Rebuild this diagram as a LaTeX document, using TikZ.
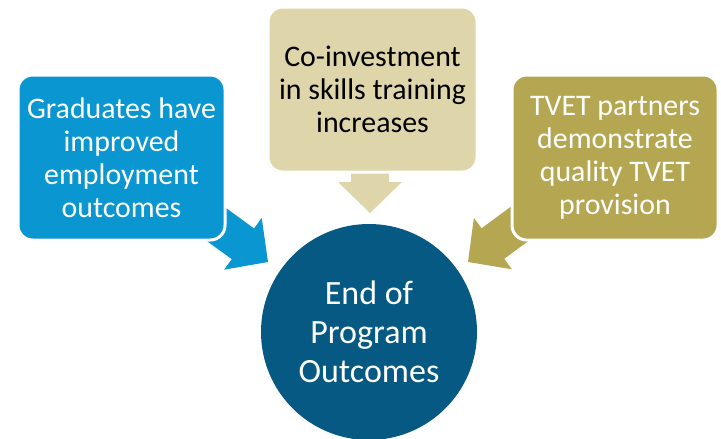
\documentclass[tikz,border=0pt]{standalone}
\usepackage{fontspec}
\setmainfont{Carlito}
\definecolor{cblue}{RGB}{10,150,208}
\definecolor{ctan}{RGB}{222,214,170}
\definecolor{colive}{RGB}{181,167,82}
\definecolor{cdark}{RGB}{5,89,130}
\tikzset{
  box/.style={draw=white, line width=2.25pt, rounded corners=11pt, align=center,
    inner sep=0pt, font=\fontsize{22.4}{24.75}\selectfont},
}
\newcommand{\blockarr}[3]{% tip, angle, colour
  \begin{scope}[shift={#1}, rotate=#2]
    \fill[#3] (0,0) -- (-31,32) -- (-31,19) -- (-75,19) -- (-75,-19) -- (-31,-19) -- (-31,-32) -- cycle;
  \end{scope}}
\begin{document}
\begin{tikzpicture}[x=0.75pt, y=-0.75pt]
\useasboundingbox (0,0) rectangle (721,439);
% arrows behind boxes
\coordinate (tl) at (268,262);
\coordinate (tt) at (370,213);
\coordinate (tr) at (468,262);
\blockarr{(tl)}{-36}{cblue}
\blockarr{(tt)}{-90}{ctan}
\blockarr{(tr)}{-143.5}{colive}
% circle
\node[circle, fill=cdark, minimum size=162pt, inner sep=0pt, text=white, align=center,
  font=\fontsize{25.5}{29.3}\selectfont] (end) at (369,332) {End of\\Program\\Outcomes};
% boxes
\node[box, fill=cblue, text=white, minimum width=155.25pt, minimum height=123.75pt] (grad) at (121.5,157.5)
  {Graduates have\\improved\\employment\\outcomes};
\node[box, fill=ctan, text=black, minimum width=156.75pt, minimum height=123.75pt] (coinv) at (372.5,89.5)
  {Co-investment\\in skills training\\increases};
\node[box, fill=colive, text=white, minimum width=154.5pt, minimum height=123.75pt] (tvet) at (615,157.5)
  {TVET partners\\demonstrate\\quality TVET\\provision};
\end{tikzpicture}
\end{document}
